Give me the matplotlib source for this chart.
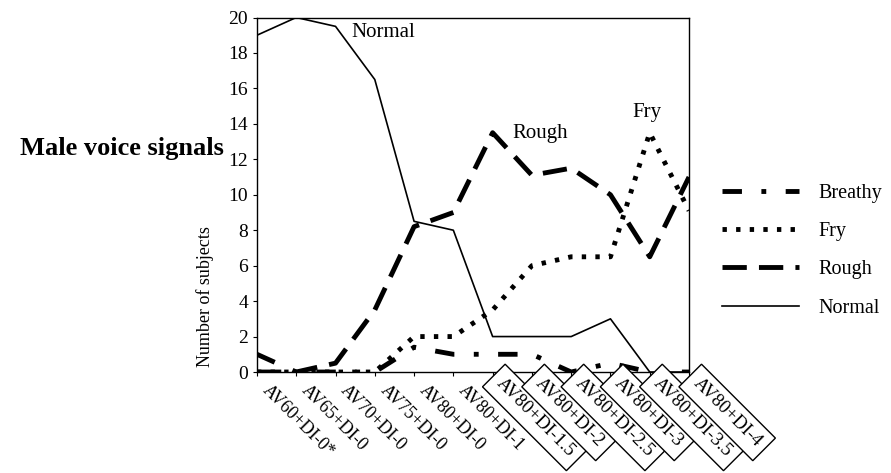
import numpy as np
import matplotlib.pyplot as plt

categories = ["AV60+DI-0*", "AV65+DI-0", "AV70+DI-0", "AV75+DI-0", "AV80+DI-0",
              "AV80+DI-1", "AV80+DI-1.5", "AV80+DI-2", "AV80+DI-2.5", "AV80+DI-3",
              "AV80+DI-3.5", "AV80+DI-4"]
normal = [19, 20, 19.5, 16.5, 8.5, 8, 2, 2, 2, 3, 0, 0]
rough = [0, 0, 0.5, 3.5, 8.2, 9, 13.5, 11.1, 11.5, 10, 6.5, 11]
fry = [0, 0, 0, 0, 2, 2, 3.5, 6, 6.5, 6.5, 13.5, 9.1]
breathy = [1, 0, 0, 0, 1.4, 1, 1, 1, 0, 0.5, 0, 0]
boxed = categories[6:]

plt.rcParams["font.family"] = ["Liberation Serif", "DejaVu Serif"]

fig = plt.figure(figsize=(8.91, 4.73), dpi=100)
ax = fig.add_axes([0.2884, 0.2135, 0.4849, 0.7495])
x = np.arange(len(categories))

ax.plot(x, normal, color="black", lw=1.2, ls="-", label="Normal")
ax.plot(x, rough, color="black", lw=3.5, ls=(0, (5, 2.5)), label="Rough")
ax.plot(x, fry, color="black", lw=3.5, ls=(0, (0.9, 1.9)), label="Fry")
ax.plot(x, breathy, color="black", lw=3.5, ls=(0, (4, 4, 1, 4)), label="Breathy")

ax.set_xlim(0, len(categories) - 1)
ax.set_ylim(0, 20)
ax.set_yticks(range(0, 21, 2))
ax.set_xticks(x)
ax.set_xticklabels([])

# category labels drawn as annotations so they can be nudged right of the ticks
for i, cat in enumerate(categories):
    if cat in boxed:
        ax.annotate(cat, xy=(i, 0), xycoords=("data", "axes fraction"),
                    xytext=(9, -2), textcoords="offset points",
                    rotation=-45, rotation_mode="anchor", ha="left", va="top",
                    fontsize=13.5, annotation_clip=False,
                    bbox=dict(boxstyle="square,pad=0.4", fc="white", ec="black", lw=1.0))
    else:
        ax.annotate(cat, xy=(i, 0), xycoords=("data", "axes fraction"),
                    xytext=(10, -7), textcoords="offset points",
                    rotation=-45, rotation_mode="anchor", ha="left", va="top",
                    fontsize=13, annotation_clip=False)

ax.tick_params(axis="y", labelsize=14, length=3, direction="out")
ax.tick_params(axis="x", length=3, direction="out")
for s in ax.spines.values():
    s.set_linewidth(1.0)

ax.text(2.4, 18.9, "Normal", fontsize=15)
ax.text(6.5, 13.2, "Rough", fontsize=15)
ax.text(9.55, 14.4, "Fry", fontsize=15)

fig.text(0.022, 0.687, "Male voice signals", fontsize=19, fontweight="bold", va="center")
fig.text(0.230, 0.372, "Number of subjects", rotation=90, fontsize=13, ha="center", va="center")

handles, labels = ax.get_legend_handles_labels()
order = [3, 2, 1, 0]
fig.legend([handles[i] for i in order], [labels[i] for i in order],
           loc="center left", bbox_to_anchor=(0.79, 0.47), frameon=False,
           fontsize=14.5, handlelength=3.8, labelspacing=0.95, handletextpad=1.0)

plt.savefig("out.png", dpi=100)
